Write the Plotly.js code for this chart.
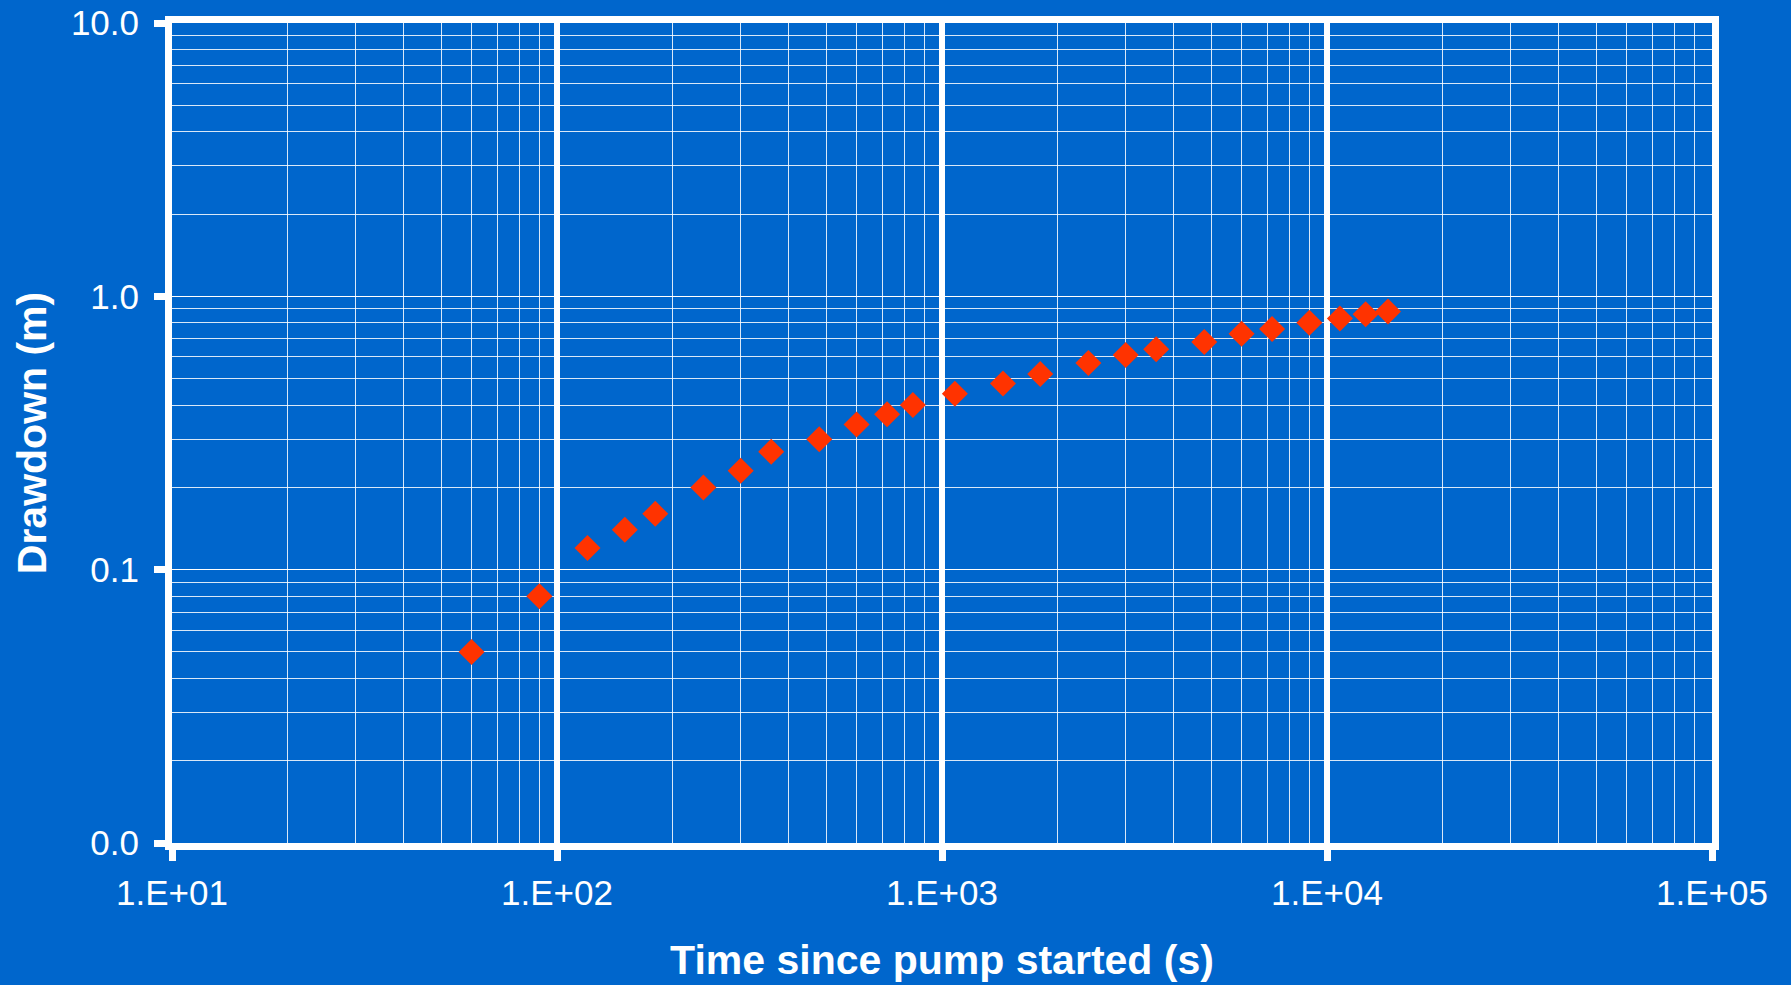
<!DOCTYPE html>
<html>
<head>
<meta charset="utf-8">
<script src="https://cdn.plot.ly/plotly-3.0.1.min.js"></script>
<style>
  html, body { margin: 0; padding: 0; background: #0066CC; }
  #chart { width: 1791px; height: 985px; }
</style>
</head>
<body>
<div id="chart"></div>
<script>
// Time since pump started (s)
const timeSec = [60, 90, 120, 150, 180, 240, 300, 360, 480, 600, 720, 840,
                 1080, 1440, 1800, 2400, 3000, 3600, 4800, 6000, 7200, 9000,
                 10800, 12600, 14400];
// Drawdown (m)
const drawdown = [0.05, 0.08, 0.12, 0.14, 0.16, 0.20, 0.23, 0.27, 0.30, 0.34, 0.37, 0.40,
                  0.44, 0.48, 0.52, 0.57, 0.61, 0.64, 0.68, 0.73, 0.76, 0.80,
                  0.83, 0.86, 0.88];

const xTickVals = [10, 100, 1000, 10000, 100000];
const xTickText = ['1.E+01', '1.E+02', '1.E+03', '1.E+04', '1.E+05'];
const yTickVals = [0.01, 0.1, 1, 10];
const yTickText = ['0.0', '0.1', '1.0', '10.0'];

const bg = '#0066CC';
const font = 'Liberation Sans, Arial, sans-serif';

const trace = {
  x: timeSec,
  y: drawdown,
  type: 'scatter',
  mode: 'markers',
  marker: { symbol: 'diamond', size: 20, color: '#FF3300', line: { width: 0 } },
  hoverinfo: 'x+y'
};

const layout = {
  width: 1791,
  height: 985,
  paper_bgcolor: bg,
  plot_bgcolor: bg,
  showlegend: false,
  margin: { l: 172, r: 79, t: 23, b: 142, pad: 0 },
  font: { family: font, color: '#FFFFFF', size: 35 },
  xaxis: {
    type: 'log',
    range: [1, 5],
    tickvals: xTickVals,
    ticktext: xTickText,
    tickfont: { family: font, size: 35, color: '#FFFFFF' },
    ticks: 'outside',
    ticklen: 11,
    tickwidth: 7,
    tickcolor: '#FFFFFF',
    ticklabelstandoff: 2,
    showline: true,
    linewidth: 7,
    linecolor: '#FFFFFF',
    mirror: true,
    showgrid: true,
    gridcolor: '#FFFFFF',
    gridwidth: 6,
    zeroline: false,
    minor: { dtick: 'D1', showgrid: true, gridcolor: 'rgba(255,255,255,0.85)', gridwidth: 1, ticks: '' },
    title: { text: 'Time since pump started (s)', font: { family: font, size: 41, color: '#FFFFFF', weight: 'bold' }, standoff: 37 },
    fixedrange: true
  },
  yaxis: {
    type: 'log',
    range: [-2, 1],
    tickvals: yTickVals,
    ticktext: yTickText,
    tickfont: { family: font, size: 35, color: '#FFFFFF' },
    ticks: 'outside',
    ticklen: 11,
    tickwidth: 7,
    tickcolor: '#FFFFFF',
    ticklabelstandoff: 8,
    showline: true,
    linewidth: 7,
    linecolor: '#FFFFFF',
    mirror: true,
    showgrid: true,
    gridcolor: '#FFFFFF',
    gridwidth: 1.5,
    zeroline: false,
    minor: { dtick: 'D1', showgrid: true, gridcolor: 'rgba(255,255,255,0.85)', gridwidth: 1, ticks: '' },
    title: { text: 'Drawdown (m)', font: { family: font, size: 41, color: '#FFFFFF', weight: 'bold' }, standoff: 14 },
    fixedrange: true
  }
};

Plotly.newPlot('chart', [trace], layout, { displayModeBar: false, staticPlot: true });
</script>
</body>
</html>
